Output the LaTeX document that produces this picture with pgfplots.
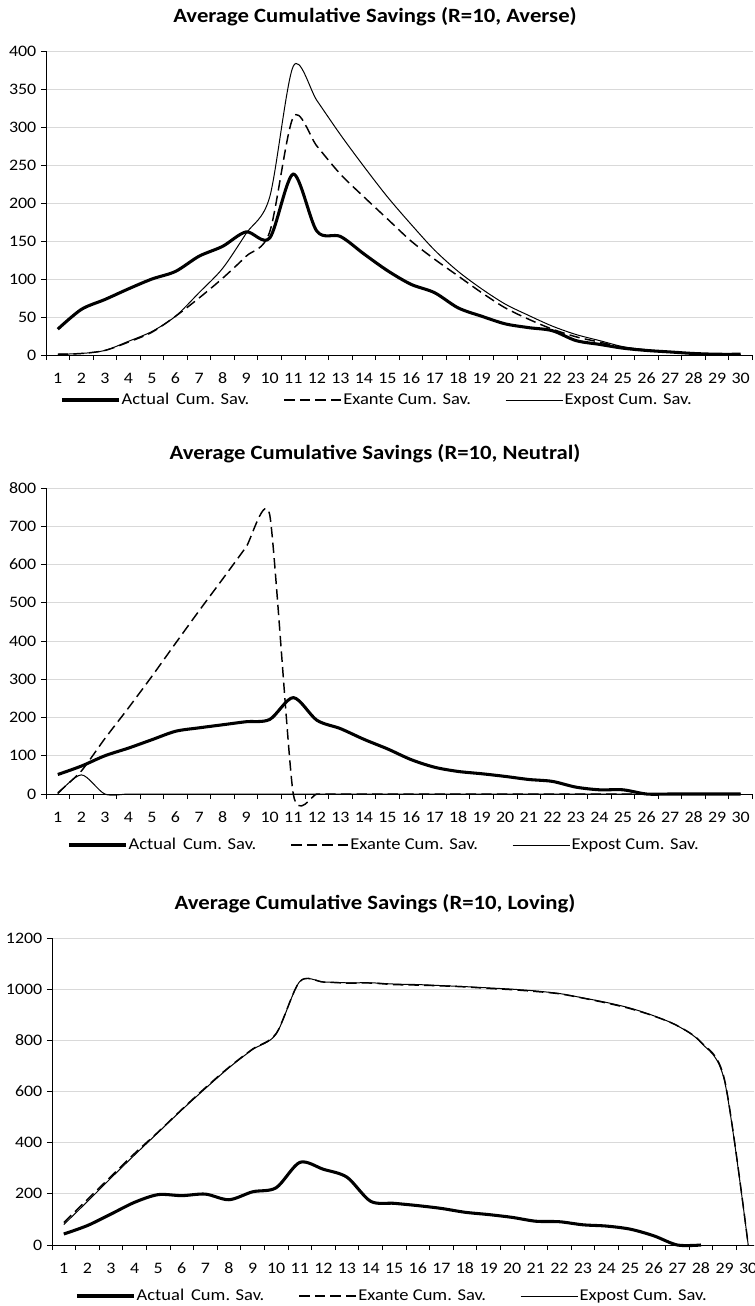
\documentclass[border=0pt]{standalone}
\usepackage{fontspec}
\setmainfont{Carlito}[FakeStretch=1.12]
\usepackage{pgfplots}
\usepackage{pgfplotstable}
\pgfplotsset{compat=1.18}

% Averse
\pgfplotstableread{
x  actual exante expost
1  34   1    1
2  60   2    2
3  73   6    6
4  87   17   18
5  100  30   31
6  110  51   51
7  130  75   82
8  143  101  114
9  162  130  160
10 154  162  208
11 238  313  380
12 163  275  335
13 156  238  290
14 133  208  248
15 111  179  208
16 93   150  172
17 82   126  138
18 62   104  110
19 51   82   87
20 41   62   67
21 36   47   52
22 32   34   38
23 19   24   27
24 14   17   19
25 9    10   11
26 6    6    7
27 4    4    4
28 2    2    2
29 1    1    1
30 1    0    0
}\averse

% Neutral
\pgfplotstableread{
x  actual exante expost
1  51   3    0
2  73   60   50
3  100  145  0
4  120  225  0
5  142  308  0
6  164  394  0
7  173  479  0
8  181  562  0
9  189  646  0
10 195  730  0
11 252  0    0
12 193  0    0
13 171  0    0
14 143  0    0
15 118  0    0
16 90   0    0
17 70   0    0
18 59   0    0
19 53   0    0
20 46   0    0
21 38   0    0
22 33   0    0
23 18   0    0
24 11   0    0
25 11   0    0
26 0    0    0
27 0    0    0
28 0    0    0
29 0    0    0
30 0    0    0
}\neutral

% Loving
\pgfplotstableread{
x  actual exante expost
1  43   88   80
2  76   178  170
3  121  268  262
4  167  358  352
5  197  442  440
6  193  530  528
7  199  615  612
8  177  695  693
9  208  766  764
10 224  827  825
11 323  1030 1030
12 296  1028 1028
13 265  1024 1025
14 171  1024 1025
15 163  1018 1020
16 154  1016 1018
17 143  1013 1014
18 128  1009 1010
19 119  1003 1005
20 108  998  1000
21 93   991  993
22 91   982  983
23 79   965  966
24 74   946  948
25 62   924  926
26 36   895  896
27 0    857  857
28 0    793  791
29 nan  645  640
30 nan  0    0
}\loving

\pgfplotsset{
  savings/.style={
    scale only axis,
    xmin=0.5, xmax=30.5,
    ymin=0,
    axis lines*=left,
    axis line style={black, line width=0.7pt},
    % ticks sit between the categories, labels are moved onto them
    xtick={0.5,1.5,...,30.5},
    xticklabels={1,2,3,4,5,6,7,8,9,10,11,12,13,14,15,16,17,18,19,20,21,22,23,24,25,26,27,28,29,30,{}},
    tick align=outside,
    major tick length=3.75pt,
    tick style={black, line width=0.7pt},
    ytick pos=left,
    ymajorgrids,
    major grid style={black!15, line width=0.75pt},
    clip=false,
    /pgf/number format/assume math mode=true,
    /pgf/number format/1000 sep={},
    ticklabel style={font=\fontsize{12}{14}\selectfont},
    xticklabel style={anchor=center, yshift=-13.75pt, xshift=8.84pt},
    title style={anchor=center, yshift=20pt, font=\bfseries\fontsize{15.2}{18}\selectfont},
    legend columns=3,
    legend style={draw=none, fill=none, inner sep=0pt, anchor=west,
      font=\fontsize{12.4}{15}\selectfont,
      nodes={inner xsep=1pt},
      /tikz/every even column/.append style={column sep=24.4pt}},
    legend image code/.code={\draw[##1] (0pt,0pt) -- (42.75pt,0pt);},
    unbounded coords=jump,
    every axis plot/.append style={smooth, black},
  },
  actual/.style={line width=2.3pt},
  exante/.style={line width=1.1pt, dash pattern=on 7.8pt off 3.9pt},
  expost/.style={line width=0.75pt},
}

\newcommand{\entries}{\legend{\makebox[96pt][l]{Actual\hspace{2pt} Cum. Sav.},\makebox[96pt][l]{Exante Cum. Sav.},\makebox[96pt][l]{Expost Cum. Sav.}}}

\begin{document}
\begin{tikzpicture}
\useasboundingbox (0,0) rectangle (565.5pt,-979.5pt);
\clip (0,0) rectangle (565.5pt,-979.5pt);

\begin{axis}[savings,
  at={(34.5pt,-266.25pt)}, anchor=south west,
  width=529.875pt, height=228pt,
  ymax=400, ytick={0,50,...,400},
  title={Average Cumulative Savings (R=10, Averse)},
  title style={at={(0.4657,1)}},
  legend style={at={(0.0198,0)}, yshift=-33.75pt},
]
\addplot[actual] table[x=x, y=actual] {\averse};
\addplot[exante] table[x=x, y=exante] {\averse};
\addplot[expost] table[x=x, y=expost] {\averse};
\entries
\end{axis}

\begin{axis}[savings,
  at={(34.5pt,-595.5pt)}, anchor=south west,
  width=529.875pt, height=229.5pt,
  ymax=800, ytick={0,100,...,800},
  title={Average Cumulative Savings (R=10, Neutral)},
  title style={at={(0.4657,1)}},
  legend style={at={(0.0297,0)}, yshift=-38.25pt},
]
\addplot[actual] table[x=x, y=actual] {\neutral};
\addplot[exante, tension=0.35] table[x=x, y=exante] {\neutral};
\addplot[expost] table[x=x, y=expost] {\neutral};
\entries
\end{axis}

\begin{axis}[savings,
  at={(39pt,-933.75pt)}, anchor=south west,
  width=531pt, height=230.25pt,
  ymax=1200, ytick={0,200,...,1200},
  title={Average Cumulative Savings (R=10, Loving)},
  title style={at={(0.4562,1)}},
  legend style={at={(0.0325,0)}, yshift=-38.25pt},
]
\addplot[actual] table[x=x, y=actual] {\loving};
\addplot[exante] table[x=x, y=exante] {\loving};
\addplot[expost] table[x=x, y=expost] {\loving};
\entries
\end{axis}
\end{tikzpicture}
\end{document}
